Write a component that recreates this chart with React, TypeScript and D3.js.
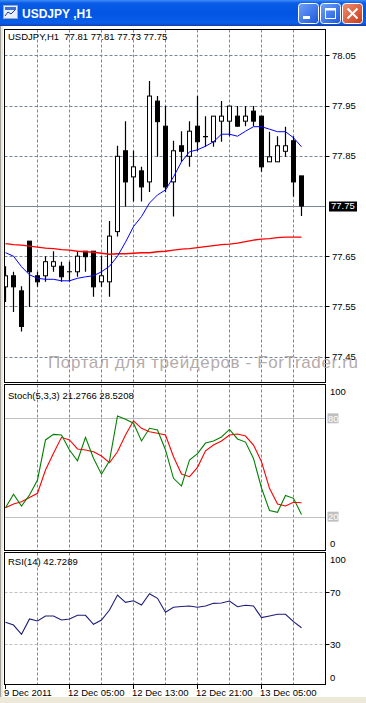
import React from "react";
import * as d3 from "d3";

// USDJPY H1 candles
const opens = [77.589, 77.611, 77.581, 77.68, 77.611, 77.611, 77.63, 77.63, 77.619, 77.619, 77.66, 77.66, 77.599, 77.599, 77.699, 77.86, 77.808, 77.82, 77.798, 77.959, 77.909, 77.798, 77.87, 77.849, 77.909, 77.888, 77.878, 77.919, 77.919, 77.929, 77.919, 77.939, 77.929, 77.838, 77.838, 77.859, 77.88, 77.81];
const highs = [77.63, 77.619, 77.59, 77.68, 77.619, 77.65, 77.66, 77.639, 77.639, 77.66, 77.66, 77.66, 77.65, 77.72, 77.87, 77.919, 77.86, 77.828, 77.999, 77.969, 77.949, 77.88, 77.899, 77.919, 77.969, 77.929, 77.929, 77.959, 77.949, 77.949, 77.949, 77.949, 77.929, 77.898, 77.889, 77.908, 77.889, 77.81];
const lows = [77.559, 77.539, 77.5, 77.549, 77.589, 77.599, 77.619, 77.599, 77.599, 77.609, 77.619, 77.569, 77.589, 77.569, 77.689, 77.749, 77.759, 77.759, 77.778, 77.848, 77.778, 77.729, 77.838, 77.828, 77.859, 77.868, 77.868, 77.878, 77.889, 77.908, 77.909, 77.909, 77.818, 77.838, 77.838, 77.848, 77.769, 77.73];
const closes = [77.611, 77.589, 77.51, 77.619, 77.599, 77.639, 77.639, 77.609, 77.619, 77.65, 77.649, 77.589, 77.611, 77.69, 77.849, 77.798, 77.828, 77.788, 77.969, 77.918, 77.788, 77.86, 77.859, 77.899, 77.878, 77.888, 77.929, 77.929, 77.949, 77.909, 77.929, 77.919, 77.828, 77.848, 77.87, 77.87, 77.798, 77.75];

// moving averages
const maFast = [77.657, 77.65, 77.629, 77.613, 77.606, 77.604, 77.604, 77.601, 77.601, 77.606, 77.609, 77.611, 77.619, 77.63, 77.65, 77.678, 77.709, 77.729, 77.756, 77.772, 77.782, 77.808, 77.838, 77.858, 77.862, 77.869, 77.878, 77.893, 77.893, 77.889, 77.899, 77.908, 77.908, 77.903, 77.898, 77.898, 77.886, 77.868];
const maSlow = [77.675, 77.673, 77.672, 77.67, 77.668, 77.666, 77.665, 77.663, 77.662, 77.66, 77.659, 77.658, 77.656, 77.654, 77.655, 77.655, 77.656, 77.657, 77.657, 77.659, 77.66, 77.662, 77.664, 77.665, 77.667, 77.669, 77.671, 77.673, 77.674, 77.676, 77.679, 77.682, 77.684, 77.685, 77.687, 77.688, 77.688, 77.688];

// Stochastic (5,3,3)
const stochMain = [25.5, 33.7, 26.5, 33.2, 42.4, 66.8, 70.2, 69.8, 60.7, 54.1, 68.4, 55.6, 45.9, 54.1, 81.4, 79.4, 77.0, 66.2, 73.9, 72.9, 60.7, 43.4, 38.7, 54.6, 58.5, 64.9, 66.2, 68.6, 73.2, 67.4, 65.5, 55.5, 37.5, 23.8, 22.7, 32.9, 31.2, 21.28];
const stochSignal = [25.5, 27.7, 29.1, 31.7, 34.3, 48.5, 58.7, 68.4, 66.8, 61.3, 60.7, 59.6, 57.0, 52.9, 59.6, 69.8, 78.5, 73.9, 71.8, 70.9, 69.8, 56.6, 46.0, 44.4, 50.1, 60.2, 63.7, 66.2, 69.8, 70.4, 69.2, 63.7, 53.5, 37.3, 27.7, 26.5, 28.8, 28.52];

// RSI(14)
const rsi = [46.9, 44.8, 37.7, 49.5, 47.9, 51.8, 51.8, 48.7, 49.5, 52.3, 52.3, 45.4, 48.7, 56.4, 67.9, 62.3, 63.5, 60.2, 68.9, 65.4, 54.6, 58.5, 59.1, 59.5, 58.5, 59.5, 61.5, 61.8, 63.3, 58.9, 60.0, 59.5, 50.5, 51.8, 53.1, 53.1, 47.4, 42.73];

const priceTicks = [78.05, 77.95, 77.85, 77.65, 77.55, 77.45];
const lastPrice = 77.75;
const xTickBars = [0, 8, 16, 24, 32];
const xTickLabels = ["9 Dec 2011", "12 Dec 05:00", "12 Dec 13:00", "12 Dec 21:00", "13 Dec 05:00"];
const gridBars = [4, 8, 12, 16, 20, 24, 28, 32, 36];

const FONT = "'Liberation Sans', Arial, sans-serif";
const GRID = "#778899";
const L = 4.5;
const R = 325.5;
const main = { top: 29.5, bottom: 382.5 };
const stoch = { top: 384.5, bottom: 550.5 };
const rsiP = { top: 552.5, bottom: 684.5 };

const x = d3.scaleLinear().domain([0, 40]).range([5, 325]);
const yPrice = d3.scaleLinear().domain([77.45, 78.05]).range([356.6, 55.4]);
const yStoch = d3.scaleLinear().domain([0, 100]).range([549.5, 385.5]);
const yRsi = d3.scaleLinear().domain([0, 100]).range([683.3, 553.3]);

const lineOf = (y: d3.ScaleLinear<number, number>) =>
  d3.line<number>().x((_, i) => x(i) + 0.5).y((d) => y(d));

const VGrid = ({ top, bottom }: { top: number; bottom: number }) => (
  <g>
    {gridBars.map((b) => (
      <line key={b} x1={x(b) + 0.5} x2={x(b) + 0.5} y1={top} y2={bottom} stroke={GRID} strokeDasharray="3,2" />
    ))}
  </g>
);

const App = () => {
  const txt = { fontFamily: FONT, fontSize: 9.5, fill: "#000" };
  return (
    <svg width={366} height={703} style={{ position: "absolute", left: 0, top: 0 }}>
      <defs>
        <linearGradient id="tb" x1="0" x2="0" y1="0" y2="1">
          <stop offset="0" stopColor="#3d8cf7" />
          <stop offset="0.12" stopColor="#0a5ce6" />
          <stop offset="0.5" stopColor="#0055e3" />
          <stop offset="0.88" stopColor="#0a5ee8" />
          <stop offset="1" stopColor="#0045d0" />
        </linearGradient>
        <linearGradient id="btn" x1="0" x2="1" y1="0" y2="1">
          <stop offset="0" stopColor="#6fa2f8" />
          <stop offset="1" stopColor="#1a56dc" />
        </linearGradient>
        <linearGradient id="cls" x1="0" x2="1" y1="0" y2="1">
          <stop offset="0" stopColor="#f09070" />
          <stop offset="1" stopColor="#c8391a" />
        </linearGradient>
        <clipPath id="cMain"><rect x={L} y={main.top} width={R - L} height={main.bottom - main.top} /></clipPath>
        <clipPath id="cStoch"><rect x={L} y={stoch.top} width={R - L} height={stoch.bottom - stoch.top} /></clipPath>
        <clipPath id="cRsi"><rect x={L} y={rsiP.top} width={R - L} height={rsiP.bottom - rsiP.top} /></clipPath>
      </defs>

      {/* window */}
      <rect x={0} y={0} width={366} height={703} fill="#fff" />
      <rect x={0} y={0} width={366} height={26} fill="url(#tb)" />
      <line x1={0} x2={366} y1={25.5} y2={25.5} stroke="#1e3f9e" />
      <rect x={0} y={26} width={3} height={677} fill="#ece9d8" />
      <line x1={0.5} x2={0.5} y1={26} y2={703} stroke="#a0a0a0" />
      <rect x={0} y={697} width={366} height={6} fill="#ece9d8" />
      <g>
        <rect x={3.5} y={5.5} width={14} height={13} fill="#e8f0ff" stroke="#9ab" />
        <rect x={5} y={7} width={11} height={3} fill="#3b6fd8" />
        <path d="M5 16 L8 12 L11 14 L15 10" stroke="#1a3a9a" fill="none" />
      </g>
      <text x={22} y={18} fontFamily={FONT} fontSize={12} fontWeight="bold" fill="#fff">USDJPY ,H1</text>
      <rect x={298.5} y={3.5} width={20} height={20} rx={3} fill="url(#btn)" stroke="#fff" />
      <rect x={303} y={16} width={7} height={3} fill="#fff" />
      <rect x={320.5} y={3.5} width={20} height={20} rx={3} fill="url(#btn)" stroke="#fff" />
      <rect x={325.5} y={8.5} width={10} height={10} fill="none" stroke="#fff" />
      <rect x={325.5} y={8.5} width={10} height={2} fill="#fff" />
      <rect x={342.5} y={3.5} width={20} height={20} rx={3} fill="url(#cls)" stroke="#fff" />
      <path d="M347.5 8.5 L357.5 18.5 M357.5 8.5 L347.5 18.5" stroke="#fff" strokeWidth={2} />

      {/* main panel */}
      <g clipPath="url(#cMain)">
        <VGrid top={main.top} bottom={main.bottom} />
        {priceTicks.map((p) => (
          <line key={p} x1={L} x2={R} y1={Math.round(yPrice(p)) + 0.5} y2={Math.round(yPrice(p)) + 0.5} stroke={GRID} strokeDasharray="3,2" />
        ))}
        <line x1={L} x2={R} y1={Math.round(yPrice(lastPrice)) + 0.5} y2={Math.round(yPrice(lastPrice)) + 0.5} stroke={GRID} />
        {closes.map((c, i) => {
          const cx = x(i) + 0.5;
          const o = opens[i];
          const top = yPrice(Math.max(o, c));
          const bot = yPrice(Math.min(o, c));
          return (
            <g key={i}>
              <line x1={cx} x2={cx} y1={yPrice(highs[i])} y2={yPrice(lows[i])} stroke="#000" strokeWidth={1.2} />
              {Math.abs(o - c) < 0.002 ? (
                <line x1={cx - 2.5} x2={cx + 2.5} y1={top} y2={top} stroke="#000" strokeWidth={1.2} />
              ) : (
                <rect x={cx - 2} y={top} width={4} height={bot - top} fill={c > o ? "#fff" : "#000"} stroke="#000" />
              )}
            </g>
          );
        })}
        <path d={lineOf(yPrice)(maSlow) || ""} fill="none" stroke="#ff0000" strokeWidth={1.4} />
        <path d={lineOf(yPrice)(maFast) || ""} fill="none" stroke="#0000ff" strokeWidth={1} />
      </g>
      <rect x={L} y={main.top} width={R - L} height={main.bottom - main.top} fill="none" stroke="#000" />
      <text x={8} y={40} {...txt}>{"USDJPY,H1\u00a0 77.81 77.81 77.73 77.75"}</text>
      {priceTicks.map((p) => (
        <g key={p}>
          <line x1={R} x2={R + 4} y1={Math.round(yPrice(p)) + 0.5} y2={Math.round(yPrice(p)) + 0.5} stroke="#000" />
          <text x={332} y={yPrice(p)} dy="0.35em" {...txt}>{p.toFixed(2)}</text>
        </g>
      ))}
      <rect x={329} y={yPrice(lastPrice) - 4.5} width={28} height={10} fill="#000" />
      <text x={331} y={yPrice(lastPrice)} dy="0.35em" {...txt} fill="#fff">{lastPrice.toFixed(2)}</text>
      <text x={48} y={368} fontFamily={FONT} fontSize={17} fill="#aaa0a0" fillOpacity={0.9} textLength={310}>Портал для трейдеров - ForTrader.ru</text>

      {/* stochastic */}
      <g clipPath="url(#cStoch)">
        <VGrid top={stoch.top} bottom={stoch.bottom} />
        {[80, 20].map((v) => (
          <line key={v} x1={L} x2={R} y1={Math.round(yStoch(v)) + 0.5} y2={Math.round(yStoch(v)) + 0.5} stroke="#c0c0c0" />
        ))}
        <path d={lineOf(yStoch)(stochSignal) || ""} fill="none" stroke="#ff0000" strokeWidth={1.1} />
        <path d={lineOf(yStoch)(stochMain) || ""} fill="none" stroke="#008000" strokeWidth={1.1} />
      </g>
      <rect x={L} y={stoch.top} width={R - L} height={stoch.bottom - stoch.top} fill="none" stroke="#000" />
      <text x={8} y={399} {...txt}>Stoch(5,3,3) 21.2766 28.5208</text>
      <text x={330} y={yStoch(100) + 6} dy="0.35em" {...txt}>100</text>
      <text x={330} y={yStoch(0) - 6} dy="0.35em" {...txt}>0</text>
      {[80, 20].map((v) => (
        <g key={v}>
          <rect x={327.5} y={yStoch(v) - 5} width={11} height={10} fill="#c0c0c0" />
          <text x={328} y={yStoch(v)} dy="0.35em" {...txt} fill="#fff">{v}</text>
        </g>
      ))}

      {/* RSI */}
      <g clipPath="url(#cRsi)">
        <VGrid top={rsiP.top} bottom={rsiP.bottom} />
        {[70, 30].map((v) => (
          <line key={v} x1={L} x2={R} y1={Math.round(yRsi(v)) + 0.5} y2={Math.round(yRsi(v)) + 0.5} stroke="#c0c0c0" strokeDasharray="3,2" />
        ))}
        <path d={lineOf(yRsi)(rsi) || ""} fill="none" stroke="#1c1c7a" strokeWidth={1.1} />
      </g>
      <rect x={L} y={rsiP.top} width={R - L} height={rsiP.bottom - rsiP.top} fill="none" stroke="#000" />
      <text x={8} y={565} {...txt}>RSI(14) 42.7289</text>
      <text x={330} y={yRsi(100) + 6} dy="0.35em" {...txt}>100</text>
      <text x={330} y={yRsi(0) - 6} dy="0.35em" {...txt}>0</text>
      {[70, 30].map((v) => (
        <g key={v}>
          <line x1={R} x2={R + 4} y1={Math.round(yRsi(v)) + 0.5} y2={Math.round(yRsi(v)) + 0.5} stroke="#000" />
          <text x={330} y={yRsi(v)} dy="0.35em" {...txt}>{v}</text>
        </g>
      ))}

      {/* time axis */}
      {xTickBars.map((b, k) => (
        <g key={b}>
          <line x1={Math.max(x(b), 4) + 0.5} x2={Math.max(x(b), 4) + 0.5} y1={684} y2={689} stroke="#000" />
          <text x={Math.max(x(b) - 1, 4)} y={696} {...txt}>{xTickLabels[k]}</text>
        </g>
      ))}
    </svg>
  );
};

export default App;
